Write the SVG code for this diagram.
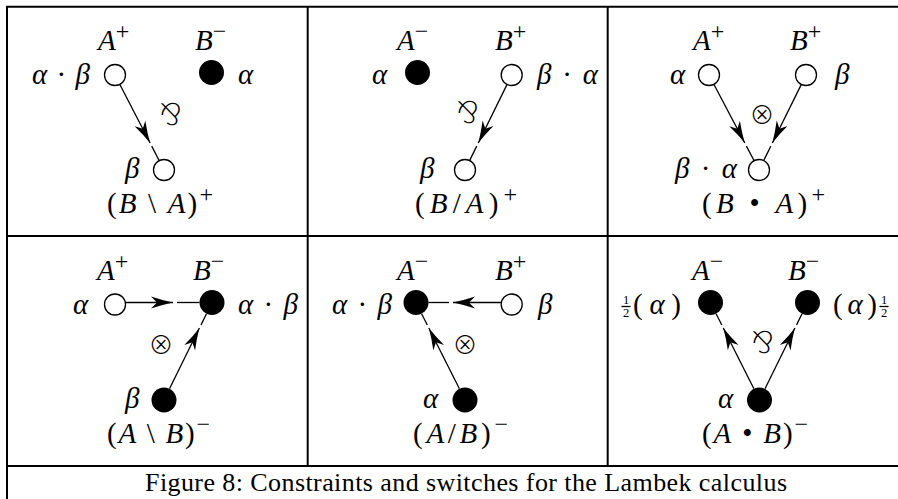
<svg xmlns="http://www.w3.org/2000/svg" width="898" height="499" viewBox="0 0 898 499">
<style>
.t{font-family:"Liberation Serif",serif;font-size:29px;fill:#000}
.i{font-style:italic}
.sup{font-size:24px;font-style:normal}
.sym{font-family:"DejaVu Sans",sans-serif;font-size:30px;fill:#000;font-weight:200}
.ot{font-family:"Noto Sans CJK JP","DejaVu Sans",sans-serif;font-size:25px;fill:#000;font-weight:300}
.fr{font-family:"Liberation Serif",serif;font-size:12.5px;fill:#000}
.cap{font-family:"Liberation Serif",serif;font-size:26px;fill:#000}
.open{fill:#fff;stroke:#000;stroke-width:1.3}
.full{fill:#000}
.frame{stroke:#000;stroke-width:2;fill:none}
.ln{stroke:#000;stroke-width:1.3;fill:none}
</style>
<defs>
<marker id="ah" markerUnits="userSpaceOnUse" orient="auto" refX="0" refY="0" overflow="visible" markerWidth="30" markerHeight="30">
<path d="M0,0 Q-10,-2 -22,-6 L-16,0 L-22,6 Q-10,2 0,0 Z" fill="#000"/>
</marker>
</defs>
<rect width="898" height="499" fill="#fff"/>
<g id="frame" class="frame">
<line x1="6" y1="6.7" x2="898" y2="6.7"/>
<line x1="7" y1="6" x2="7" y2="499"/>
<line x1="307.7" y1="6" x2="307.7" y2="466"/>
<line x1="607.7" y1="6" x2="607.7" y2="466"/>
<line x1="7" y1="236" x2="898" y2="236"/>
<line x1="7" y1="466" x2="898" y2="466"/>
</g>
<g id="connectors" class="ln">
<line x1="120" y1="84.8" x2="150.1" y2="143" marker-end="url(#ah)"/>
<line x1="151.7" y1="146.1" x2="159" y2="160.2"/>
<line x1="506.85" y1="84.9" x2="478.3" y2="143" marker-end="url(#ah)"/>
<line x1="476.7" y1="146.1" x2="469.85" y2="160.1"/>
<line x1="714.1" y1="84.7" x2="744.8" y2="143" marker-end="url(#ah)"/>
<line x1="746.4" y1="146.1" x2="753.9" y2="160.3"/>
<line x1="801.1" y1="84.9" x2="772.35" y2="143" marker-end="url(#ah)"/>
<line x1="770.8" y1="146.2" x2="763.9" y2="160.1"/>
<line x1="125.6" y1="302.5" x2="173" y2="302.5" marker-end="url(#ah)"/>
<line x1="177" y1="302.5" x2="199.5" y2="302.5"/>
<line x1="169.5" y1="388.8" x2="199.4" y2="328" marker-end="url(#ah)"/>
<line x1="201" y1="324.9" x2="206.5" y2="313.7"/>
<line x1="501" y1="302.5" x2="453" y2="302.5" marker-end="url(#ah)"/>
<line x1="449" y1="302.5" x2="428.5" y2="302.5"/>
<line x1="459.4" y1="388.8" x2="428.8" y2="328" marker-end="url(#ah)"/>
<line x1="427.3" y1="325" x2="421.6" y2="313.7"/>
<line x1="753.9" y1="388.8" x2="723.3" y2="328" marker-end="url(#ah)"/>
<line x1="721.8" y1="325" x2="716.1" y2="313.7"/>
<line x1="765" y1="388.8" x2="794.9" y2="328" marker-end="url(#ah)"/>
<line x1="796.6" y1="324.9" x2="802" y2="313.7"/>
</g>
<!-- Cell 1 -->
<g id="c1-A">
<text class="t" x="98" y="50"><tspan class="i">A</tspan><tspan class="sup" dy="-11">+</tspan></text>
<text class="t" x="32" y="84" textLength="58" lengthAdjust="spacing"><tspan class="i">α</tspan> · <tspan class="i">β</tspan></text>
<circle class="open" cx="115" cy="75" r="10.5"/>
</g>
<g id="c1-B">
<text class="t" x="195" y="50"><tspan class="i">B</tspan><tspan class="sup" dy="-11">−</tspan></text>
<circle class="full" cx="211.5" cy="72.5" r="12.5"/>
<text class="t i" x="238" y="84">α</text>
</g>
<g id="c1-BA">
<circle class="open" cx="164" cy="170" r="10.5"/>
<text class="t i" x="125" y="178">β</text>
<text class="t" x="107" y="213" textLength="106" lengthAdjust="spacing">(<tspan class="i">B</tspan> \ <tspan class="i">A</tspan>)<tspan class="sup" dy="-11">+</tspan></text>
</g>
<text class="sym" x="170" y="125" text-anchor="middle">⅋</text>
<!-- Cell 2 -->
<g id="c2-A">
<text class="t" x="397" y="50"><tspan class="i">A</tspan><tspan class="sup" dy="-11">−</tspan></text>
<text class="t i" x="372" y="84">α</text>
<circle class="full" cx="417.5" cy="72.5" r="12.5"/>
</g>
<g id="c2-B">
<text class="t" x="495" y="50"><tspan class="i">B</tspan><tspan class="sup" dy="-11">+</tspan></text>
<circle class="open" cx="511.7" cy="75" r="10.5"/>
<text class="t" x="537" y="84" textLength="61" lengthAdjust="spacing"><tspan class="i">β</tspan> · <tspan class="i">α</tspan></text>
</g>
<g id="c2-BA">
<circle class="open" cx="465" cy="170" r="10.5"/>
<text class="t i" x="420" y="178">β</text>
<text class="t" x="415" y="213" textLength="102" lengthAdjust="spacing">(<tspan class="i">B</tspan>/<tspan class="i">A</tspan>)<tspan class="sup" dy="-11">+</tspan></text>
</g>
<text class="sym" x="467" y="123" text-anchor="middle">⅋</text>
<!-- Cell 3 -->
<g id="c3-A">
<text class="t" x="693" y="50"><tspan class="i">A</tspan><tspan class="sup" dy="-11">+</tspan></text>
<text class="t i" x="670" y="84">α</text>
<circle class="open" cx="709" cy="75" r="10.5"/>
</g>
<g id="c3-B">
<text class="t" x="790" y="50"><tspan class="i">B</tspan><tspan class="sup" dy="-11">+</tspan></text>
<circle class="open" cx="806" cy="75" r="10.5"/>
<text class="t i" x="835" y="84">β</text>
</g>
<g id="c3-BA">
<circle class="open" cx="759" cy="170" r="10.5"/>
<text class="t" x="675" y="178" textLength="62" lengthAdjust="spacing"><tspan class="i">β</tspan> · <tspan class="i">α</tspan></text>
<text class="t" x="702" y="213" textLength="123" lengthAdjust="spacing">(<tspan class="i">B</tspan> • <tspan class="i">A</tspan>)<tspan class="sup" dy="-11">+</tspan></text>
</g>
<text class="ot" x="762" y="124" text-anchor="middle">⊗</text>
<!-- Cell 4 -->
<g id="c4-A">
<text class="t" x="97" y="280"><tspan class="i">A</tspan><tspan class="sup" dy="-11">+</tspan></text>
<text class="t i" x="73" y="314">α</text>
<circle class="open" cx="115" cy="304.5" r="10.5"/>
</g>
<g id="c4-B">
<text class="t" x="193" y="280"><tspan class="i">B</tspan><tspan class="sup" dy="-11">−</tspan></text>
<circle class="full" cx="212" cy="302.5" r="12.5"/>
<text class="t" x="238" y="314" textLength="60" lengthAdjust="spacing"><tspan class="i">α</tspan> · <tspan class="i">β</tspan></text>
</g>
<g id="c4-AB">
<circle class="full" cx="164" cy="400" r="12.5"/>
<text class="t i" x="125" y="408">β</text>
<text class="t" x="107" y="443" textLength="103" lengthAdjust="spacing">(<tspan class="i">A</tspan> \ <tspan class="i">B</tspan>)<tspan class="sup" dy="-11">−</tspan></text>
</g>
<text class="ot" x="161" y="354" text-anchor="middle">⊗</text>
<!-- Cell 5 -->
<g id="c5-A">
<text class="t" x="397" y="280"><tspan class="i">A</tspan><tspan class="sup" dy="-11">−</tspan></text>
<text class="t" x="332" y="314" textLength="60" lengthAdjust="spacing"><tspan class="i">α</tspan> · <tspan class="i">β</tspan></text>
<circle class="full" cx="416" cy="302.5" r="12.5"/>
</g>
<g id="c5-B">
<text class="t" x="495" y="280"><tspan class="i">B</tspan><tspan class="sup" dy="-11">+</tspan></text>
<circle class="open" cx="511.7" cy="304.5" r="10.5"/>
<text class="t i" x="538" y="314">β</text>
</g>
<g id="c5-AB">
<circle class="full" cx="465" cy="400" r="12.5"/>
<text class="t i" x="423" y="408">α</text>
<text class="t" x="413" y="443" textLength="95" lengthAdjust="spacing">(<tspan class="i">A</tspan>/<tspan class="i">B</tspan>)<tspan class="sup" dy="-11">−</tspan></text>
</g>
<text class="ot" x="465" y="354" text-anchor="middle">⊗</text>
<!-- Cell 6 -->
<g id="c6-A">
<text class="t" x="692" y="280"><tspan class="i">A</tspan><tspan class="sup" dy="-11">−</tspan></text>
<text class="fr" text-anchor="middle"><tspan x="626" y="304">1</tspan><tspan x="626" y="316.5">2</tspan></text>
<line x1="621.5" y1="306.5" x2="630.5" y2="306.5" stroke="#000" stroke-width="1.3"/>
<text class="t" x="633" y="314" textLength="48" lengthAdjust="spacing">(<tspan class="i">α</tspan>)</text>
<circle class="full" cx="710.5" cy="302.5" r="12.5"/>
</g>
<g id="c6-B">
<text class="t" x="833" y="314" textLength="44" lengthAdjust="spacing">(<tspan class="i">α</tspan>)</text>
<text class="t" x="788" y="280"><tspan class="i">B</tspan><tspan class="sup" dy="-11">−</tspan></text>
<circle class="full" cx="807.5" cy="302.5" r="12.5"/>
<text class="fr" text-anchor="middle"><tspan x="884" y="304">1</tspan><tspan x="884" y="316.5">2</tspan></text>
<line x1="879.5" y1="306.5" x2="888.5" y2="306.5" stroke="#000" stroke-width="1.3"/>
</g>
<g id="c6-AB">
<circle class="full" cx="759.5" cy="400" r="12.5"/>
<text class="t i" x="718" y="408">α</text>
<text class="t" x="702" y="443" textLength="106" lengthAdjust="spacing">(<tspan class="i">A</tspan> • <tspan class="i">B</tspan>)<tspan class="sup" dy="-11">−</tspan></text>
</g>
<text class="sym" x="762" y="353" text-anchor="middle">⅋</text>
<text class="cap" x="145" y="491" textLength="642" lengthAdjust="spacing">Figure 8: Constraints and switches for the Lambek calculus</text>
</svg>
